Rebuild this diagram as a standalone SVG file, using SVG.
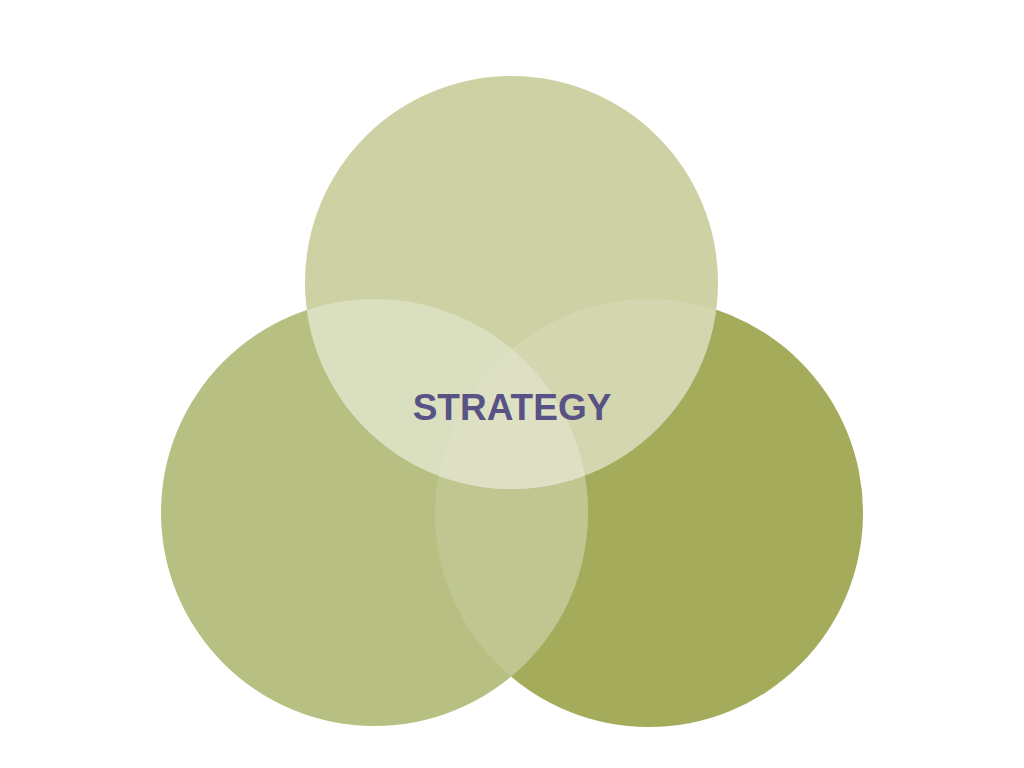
<svg xmlns="http://www.w3.org/2000/svg" width="1024" height="768" viewBox="0 0 1024 768">
  <style>
    .lbl { font-family: "Liberation Sans", Arial, sans-serif; font-weight: bold; font-size: 37px; fill: #595285; }
  </style>
  <defs>
    <circle id="cTop" cx="511.5" cy="282.5" r="206.5"/>
    <circle id="cLeft" cx="374.5" cy="512.5" r="213.5"/>
    <circle id="cRight" cx="649" cy="513" r="214"/>
    <clipPath id="clipTop"><use href="#cTop"/></clipPath>
    <clipPath id="clipLeft"><use href="#cLeft"/></clipPath>
    <clipPath id="clipRight"><use href="#cRight"/></clipPath>
  </defs>
  <rect width="1024" height="768" fill="#ffffff"/>
  <g id="node-right"><use href="#cRight" fill="#a4ac5c"/></g>
  <g id="node-left"><use href="#cLeft" fill="#b7bf82"/></g>
  <g id="node-top"><use href="#cTop" fill="#cdd1a3"/></g>
  <g id="overlaps">
    <g clip-path="url(#clipLeft)"><use href="#cRight" fill="#c0c68f"/></g>
    <g clip-path="url(#clipTop)"><use href="#cLeft" fill="#dadfbf"/></g>
    <g clip-path="url(#clipTop)"><use href="#cRight" fill="#d3d6ae"/></g>
    <g clip-path="url(#clipTop)"><g clip-path="url(#clipLeft)"><use href="#cRight" fill="#dee0c4"/></g></g>
  </g>
  <g id="node-strategy">
    <text class="lbl" x="512" y="419.5" text-anchor="middle">STRATEGY</text>
  </g>
  <g id="connectors"/>
</svg>
